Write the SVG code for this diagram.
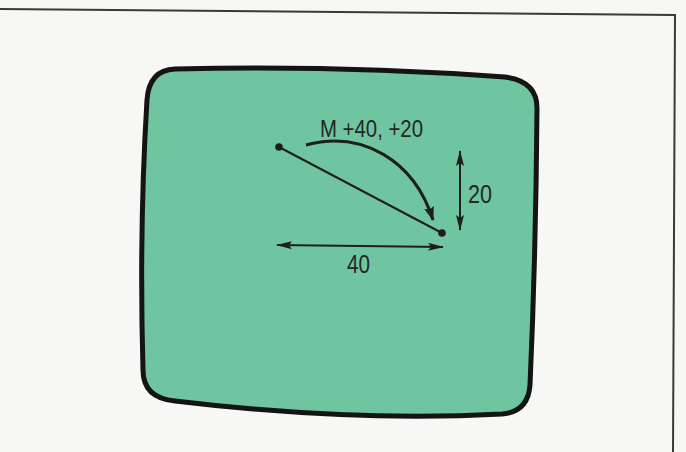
<svg xmlns="http://www.w3.org/2000/svg" width="686" height="452" viewBox="0 0 686 452">
<defs>
<style>
.lbl{font-family:"Liberation Sans","DejaVu Sans",sans-serif;fill:#262626;}
.ln{stroke:#1e1e1e;fill:none;}
</style>
<marker id="ah" viewBox="0 0 16 8" refX="15" refY="4" markerWidth="16" markerHeight="8" markerUnits="userSpaceOnUse" orient="auto-start-reverse">
<path d="M0,0 L16,4 L0,8 L3,4 Z" fill="#1e1e1e"/>
</marker>
<marker id="ahc" viewBox="0 0 14 10" refX="13" refY="5" markerWidth="14" markerHeight="10" markerUnits="userSpaceOnUse" orient="auto">
<path d="M0,0 L14,5 L0,10 L2,5 Z" fill="#1e1e1e"/>
</marker>
</defs>
<rect width="686" height="452" fill="#f7f7f5"/>
<g id="frame">
<path d="M0,9 L675,15 L673,452" fill="none" stroke="#3a3a3a" stroke-width="2"/>
</g>
<g id="screen">
<path d="M175,69 Q340,65 505,77 Q537,81 537,108 Q536,250 530,385 Q528,412 502,414 Q350,422 175,401 Q143,398 143,370 Q139,230 147,100 Q149,70 175,69 Z" fill="#6ec5a0" stroke="#141414" stroke-width="5"/>
</g>
<g id="connectors">
<line class="ln" x1="279" y1="147" x2="442" y2="233" stroke-width="2"/>
<path class="ln" d="M306,145 C362,130 414,160 433,220" stroke-width="3" marker-end="url(#ahc)"/>
<line class="ln" x1="460" y1="151" x2="460" y2="230" stroke-width="2" marker-start="url(#ah)" marker-end="url(#ah)"/>
<line class="ln" x1="277" y1="245" x2="443" y2="247" stroke-width="2" marker-start="url(#ah)" marker-end="url(#ah)"/>
</g>
<g id="pointA"><circle cx="279" cy="147" r="3.8" fill="#1e1e1e"/></g>
<g id="pointB"><circle cx="442" cy="233" r="3.8" fill="#1e1e1e"/></g>
<g id="labels">
<text class="lbl" x="320" y="137" font-size="23.5" textLength="103" lengthAdjust="spacingAndGlyphs">M +40, +20</text>
<text class="lbl" x="468" y="203" font-size="25" textLength="24" lengthAdjust="spacingAndGlyphs">20</text>
<text class="lbl" x="347" y="273" font-size="25" textLength="23" lengthAdjust="spacingAndGlyphs">40</text>
</g>
</svg>
